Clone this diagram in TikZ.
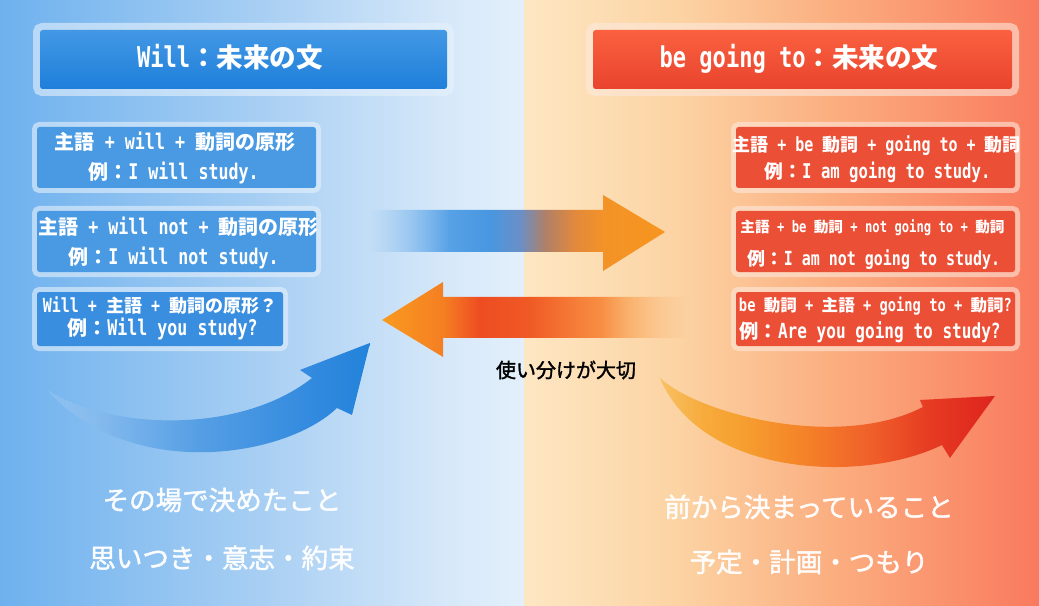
\documentclass[tikz,border=0pt]{standalone}
\usepackage{fontspec}
\usetikzlibrary{fadings}
\newfontfamily\mono{DejaVu Sans Mono}[Scale=1.08,FakeStretch=0.77]
\newfontfamily\jpf{Noto Sans CJK JP}
\newfontfamily\jpm{Noto Sans CJK JP}[FakeBold=1.6]
\newcommand\J[1]{{\jpf #1}}
\newcommand\fsz[1]{\fontsize{#1}{#1}\selectfont}
% colours
\definecolor{bgLa}{HTML}{6EB1EE}
\definecolor{bgLb}{HTML}{A8CFF3}
\definecolor{bgLc}{HTML}{D6E8F9}
\definecolor{bgLd}{HTML}{E3F0FB}
\definecolor{bgRa}{HTML}{FDE7C3}
\definecolor{bgRb}{HTML}{FCD3A3}
\definecolor{bgRc}{HTML}{FBAE80}
\definecolor{bgRd}{HTML}{F97A5E}
\definecolor{tLa}{HTML}{4398E5}
\definecolor{tLb}{HTML}{1E7FDA}
\definecolor{tRa}{HTML}{FA613F}
\definecolor{tRb}{HTML}{E9432E}
\definecolor{boxL}{HTML}{4A9AE3}
\definecolor{boxLc}{HTML}{3A8EE0}
\definecolor{boxR}{HTML}{EB4F36}
\definecolor{frL}{HTML}{E6F1FC}
\definecolor{frR}{HTML}{FDE8DC}
% arrow colours
\definecolor{aTa}{HTML}{7DB8EC}
\definecolor{aTb}{HTML}{5EA6E8}
\definecolor{aTc}{HTML}{4897E0}
\definecolor{aTd}{HTML}{6A8FC6}
\definecolor{aTe}{HTML}{B08068}
\definecolor{aTf}{HTML}{E2893C}
\definecolor{aTg}{HTML}{F39327}
\definecolor{aTh}{HTML}{F7951F}
\definecolor{aBa}{HTML}{F89A20}
\definecolor{aBb}{HTML}{F57F22}
\definecolor{aBc}{HTML}{EE4C22}
\definecolor{aBd}{HTML}{F05A25}
\definecolor{aBe}{HTML}{F6803A}
\definecolor{aBf}{HTML}{F9A050}
\definecolor{aBg}{HTML}{FBBE80}
\definecolor{sLa}{HTML}{9CC8F0}
\definecolor{sLb}{HTML}{7AB4EC}
\definecolor{sLc}{HTML}{559EE4}
\definecolor{sLd}{HTML}{368CDF}
\definecolor{sLe}{HTML}{2282DA}
\definecolor{sRa}{HTML}{F8B848}
\definecolor{sRb}{HTML}{F6A030}
\definecolor{sRc}{HTML}{F58428}
\definecolor{sRd}{HTML}{F0602A}
\definecolor{sRe}{HTML}{E63B22}
\definecolor{sRf}{HTML}{DE241E}
% shadings (path bbox = 25bp..75bp)
\pgfdeclarehorizontalshading{bgleft}{100bp}{color(0bp)=(bgLa); color(25bp)=(bgLa); color(50bp)=(bgLb); color(67.5bp)=(bgLc); color(75bp)=(bgLd); color(100bp)=(bgLd)}
\pgfdeclarehorizontalshading{bgright}{100bp}{color(0bp)=(bgRa); color(25bp)=(bgRa); color(40bp)=(bgRb); color(55bp)=(bgRc); color(75bp)=(bgRd); color(100bp)=(bgRd)}
\pgfdeclarehorizontalshading{arrtop}{100bp}{color(0bp)=(aTa); color(25bp)=(aTa); color(35.2bp)=(aTb); color(45.3bp)=(aTc); color(50.4bp)=(aTd); color(54.7bp)=(aTe); color(59.7bp)=(aTf); color(64.8bp)=(aTg); color(75bp)=(aTh); color(100bp)=(aTh)}
\pgfdeclarehorizontalshading{arrbot}{100bp}{color(0bp)=(aBa); color(25bp)=(aBa); color(34.9bp)=(aBb); color(40.9bp)=(aBc); color(49bp)=(aBd); color(57.1bp)=(aBe); color(65.3bp)=(aBf); color(75bp)=(aBg); color(100bp)=(aBg)}
\pgfdeclarehorizontalshading{swl}{100bp}{color(0bp)=(sLa); color(25bp)=(sLa); color(36.3bp)=(sLb); color(48.7bp)=(sLc); color(64.2bp)=(sLd); color(75bp)=(sLe); color(100bp)=(sLe)}
\pgfdeclarehorizontalshading{swr}{100bp}{color(0bp)=(sRa); color(25bp)=(sRa); color(36.9bp)=(sRb); color(45.9bp)=(sRc); color(56.3bp)=(sRd); color(65.3bp)=(sRe); color(75bp)=(sRf); color(100bp)=(sRf)}
% fadings
\pgfdeclarehorizontalshading{fadetopsh}{100bp}{color(0bp)=(black); color(25bp)=(black); color(38.5bp)=(white); color(100bp)=(white)}
\pgfdeclarefading{fadetop}{\pgfuseshading{fadetopsh}}
\pgfdeclarehorizontalshading{fadebotsh}{100bp}{color(0bp)=(white); color(60.4bp)=(white); color(75bp)=(black); color(100bp)=(black)}
\pgfdeclarefading{fadebot}{\pgfuseshading{fadebotsh}}
\pgfdeclarehorizontalshading{fadeswlsh}{100bp}{color(0bp)=(black!55); color(25bp)=(black!55); color(34bp)=(white); color(100bp)=(white)}
\pgfdeclarefading{fadeswl}{\pgfuseshading{fadeswlsh}}
\pgfdeclarehorizontalshading{fadeswrsh}{100bp}{color(0bp)=(black!30); color(25bp)=(black!30); color(32bp)=(white); color(100bp)=(white)}
\pgfdeclarefading{fadeswr}{\pgfuseshading{fadeswrsh}}
\begin{document}
\begin{tikzpicture}[x=0.75pt,y=-0.75pt,
  frame/.style={rectangle, rounded corners=2pt, inner sep=0pt,
    preaction={draw=#1, draw opacity=0.6, line width=7.5pt}},
  tframe/.style={rectangle, rounded corners=2pt, inner sep=0pt,
    preaction={draw=#1, draw opacity=0.6, line width=10.5pt}},
  boxsize/.style 2 args={minimum width=#1*0.75pt, minimum height=#2*0.75pt},
  txt/.style={inner sep=0pt, anchor=base, text=white},
  btxt/.style={inner sep=0pt, anchor=base, text=white, text opacity=0.96, font=\jpm\fsz{19.9}}]
\useasboundingbox (0,0) rectangle (1039,606);
% background
\shade[shading=bgleft] (0,0) rectangle (524,606);
\shade[shading=bgright] (524,0) rectangle (1039,606);

% middle arrows
\shade[shading=arrtop, path fading=fadetop]
  (370,210) -- (603,210) -- (603,195) -- (665,232) -- (603,271) -- (603,252) -- (370,252) -- cycle;
\shade[shading=arrbot, path fading=fadebot]
  (690,297) -- (443,297) -- (443,282) -- (382,320) -- (443,357) -- (443,338) -- (690,338) -- cycle;

% swoosh arrows
\shade[shading=swl, path fading=fadeswl]
  (47,390) .. controls (110,430) and (240,435) .. (312,378)
  -- (300,370) -- (370,343) -- (352,415) -- (337,408)
  .. controls (285,458) and (130,482) .. (47,390) -- cycle;
\shade[shading=swr, path fading=fadeswr]
  (660,378) .. controls (700,415) and (840,450) .. (923,407)
  -- (920,400) -- (995,396) -- (950,458) -- (942,445)
  .. controls (860,485) and (700,475) .. (660,378) -- cycle;

% left column
\node[tframe=frL, boxsize={407}{59}, top color=tLa, bottom color=tLb] (tL) at (243.5,59.5) {};
\node[txt, font=\mono\bfseries\fsz{19.9}] (tLt) at (230,68) {Will\J{：未来の文}};

\node[frame=frL, boxsize={279}{61}, fill=boxL] (bL1) at (176.5,157.5) {};
\node[txt, font=\mono\bfseries\fsz{15}] (bL1a) at (175,149.6) {\J{主語} + will + \J{動詞の原形}};
\node[txt, font=\mono\bfseries\fsz{15}] (bL1b) at (173.5,179.6) {\J{例：}I will study.};

\node[frame=frL, boxsize={279}{61}, fill=boxL] (bL2) at (176.5,241.5) {};
\node[txt, font=\mono\bfseries\fsz{15}] (bL2a) at (178.5,234.6) {\J{主語} + will not + \J{動詞の原形}};
\node[txt, font=\mono\bfseries\fsz{15}] (bL2b) at (173.5,264.6) {\J{例：}I will not study.};

\node[frame=frL, boxsize={246}{54}, fill=boxLc] (bL3) at (160,319) {};
\node[txt, font=\mono\bfseries\fsz{13.5}] (bL3a) at (160,312.8) {Will + \J{主語} + \J{動詞の原形？}};
\node[txt, font=\mono\bfseries\fsz{15}] (bL3b) at (162.5,335.6) {\J{例：}Will you study?};

% right column
\node[tframe=frR, boxsize={419}{59}, top color=tRa, bottom color=tRb] (tR) at (802.5,59.5) {};
\node[txt, font=\mono\bfseries\fsz{19.9}] (tRt) at (799,68) {be going to\J{：未来の文}};

\node[frame=frR, boxsize={279}{61}, fill=boxR] (bR1) at (875.5,157.5) {};
\node[txt, font=\mono\bfseries\fsz{13.5}] (bR1a) at (876.5,151.8) {\J{主語} + be \J{動詞} + going to + \J{動詞}};
\node[txt, font=\mono\bfseries\fsz{14.1}] (bR1b) at (877.5,179) {\J{例：}I am going to study.};

\node[frame=frR, boxsize={279}{61}, fill=boxR] (bR2) at (875.5,241.5) {};
\node[txt, font=\mono\bfseries\fsz{11}] (bR2a) at (872.5,232.6) {\J{主語} + be \J{動詞} + not going to + \J{動詞}};
\node[txt, font=\mono\bfseries\fsz{13.5}] (bR2b) at (874,265.8) {\J{例：}I am not going to study.};

\node[frame=frR, boxsize={279}{54}, fill=boxR] (bR3) at (875.5,319) {};
\node[txt, font=\mono\bfseries\fsz{12.4}] (bR3a) at (875.5,311.3) {be \J{動詞} + \J{主語} + going to + \J{動詞}?};
\node[txt, font=\mono\bfseries\fsz{14.5}] (bR3b) at (870,338.3) {\J{例：}Are you going to study?};

% centre label
\node[inner sep=0pt, anchor=base, font=\jpm\fsz{15}] (lab) at (566,377.6) {使い分けが大切};

% bottom texts
\node[btxt] (wL1) at (222,510) {その場で決めたこと};
\node[btxt] (wL2) at (222,568) {思いつき・意志・約束};
\node[btxt] (wR1) at (809,517) {前から決まっていること};
\node[btxt] (wR2) at (809,572) {予定・計画・つもり};
\end{tikzpicture}
\end{document}
